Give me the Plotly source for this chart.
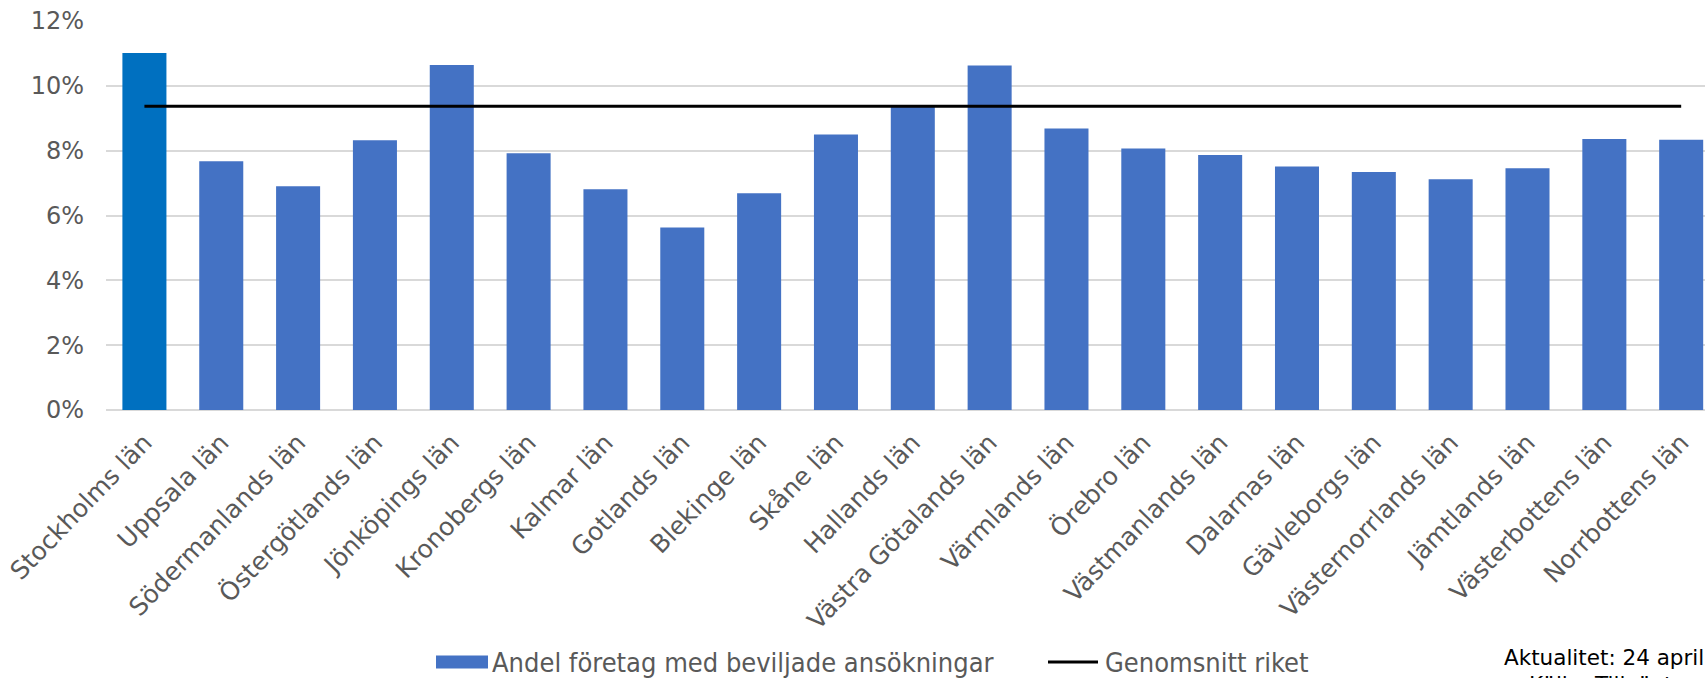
import plotly.graph_objects as go

# ---- data ----
categories = [
    "Stockholms län", "Uppsala län", "Södermanlands län", "Östergötlands län",
    "Jönköpings län", "Kronobergs län", "Kalmar län", "Gotlands län",
    "Blekinge län", "Skåne län", "Hallands län", "Västra Götalands län",
    "Värmlands län", "Örebro län", "Västmanlands län", "Dalarnas län",
    "Gävleborgs län", "Västernorrlands län", "Jämtlands län",
    "Västerbottens län", "Norrbottens län",
]
andel_pct = [11.01, 7.67, 6.90, 8.32, 10.64, 7.92, 6.81, 5.63, 6.69, 8.50,
             9.38, 10.63, 8.68, 8.07, 7.87, 7.51, 7.34, 7.12, 7.46, 8.36, 8.34]
genomsnitt_pct = 9.37
y_ticks_pct = [0, 2, 4, 6, 8, 10, 12]

bar_name = "Andel företag med beviljade ansökningar"
line_name = "Genomsnitt riket"
highlight = "Stockholms län"
note_1 = "Aktualitet: 24 april"
note_2 = "Källa: Tillväxtverket"

# ---- styling ----
BAR_COLOR = "#4472C4"
HIGHLIGHT_COLOR = "#0070C0"
LINE_COLOR = "#000000"
TEXT_GREY = "#595959"

values = [v / 100 for v in andel_pct]
avg = [genomsnitt_pct / 100] * len(categories)
colors = [HIGHLIGHT_COLOR if c == highlight else BAR_COLOR for c in categories]

W, H = 1705, 678
L, R, T, B = 106, 0, 21, 268
pw = W - L - R
ph = H - T - B

def px_x(x):
    return (x - L) / pw

def px_y(y):
    return (H - B - y) / ph

fig = go.Figure()
fig.add_trace(go.Bar(
    x=categories, y=values, name=bar_name,
    marker=dict(color=colors, line=dict(width=0)),
    showlegend=False,
))
fig.add_trace(go.Scatter(
    x=categories, y=avg, name=line_name, mode="lines",
    line=dict(color=LINE_COLOR, width=3),
    showlegend=False,
))

ytick_font = dict(family="DejaVu Sans", size=24, color=TEXT_GREY)
xtick_font = dict(family="DejaVu Sans", size=25, color=TEXT_GREY)
legend_font = dict(family="Liberation Sans Narrow, DejaVu Sans Condensed, Arial",
                   size=27, color=TEXT_GREY)
note_font = dict(family="DejaVu Sans", size=21.5, color="#000000")

# legend (drawn as shapes + text, matching the reference's wide swatches)
leg_y = 662
shapes = [
    dict(type="rect", xref="paper", yref="paper",
         x0=px_x(436), x1=px_x(488), y0=px_y(668.5), y1=px_y(655.5),
         fillcolor=BAR_COLOR, line=dict(width=0)),
    dict(type="line", xref="paper", yref="paper",
         x0=px_x(1048), x1=px_x(1098), y0=px_y(leg_y), y1=px_y(leg_y),
         line=dict(color=LINE_COLOR, width=3)),
]
annotations = [
    dict(text=bar_name, xref="paper", yref="paper",
         x=px_x(490), y=px_y(leg_y), xanchor="left", yanchor="middle",
         showarrow=False, font=legend_font),
    dict(text=line_name, xref="paper", yref="paper",
         x=px_x(1103), y=px_y(leg_y), xanchor="left", yanchor="middle",
         showarrow=False, font=legend_font),
    dict(text=note_1, xref="paper", yref="paper",
         x=px_x(1502), y=px_y(657), xanchor="left", yanchor="middle",
         showarrow=False, font=note_font),
    dict(text=note_2, xref="paper", yref="paper",
         x=px_x(1527), y=px_y(670), xanchor="left", yanchor="top",
         showarrow=False, font=note_font),
]

fig.update_layout(
    width=W, height=H,
    margin=dict(l=L, r=R, t=T, b=B, pad=0, autoexpand=False),
    paper_bgcolor="white", plot_bgcolor="white",
    bargap=0.427,
    showlegend=False,
    xaxis=dict(
        range=[-0.5, 20.31],
        tickangle=-46,
        tickfont=xtick_font,
        showgrid=False, showline=False, zeroline=False,
        ticks="", ticklabelstandoff=12,
        fixedrange=True, automargin=False,
    ),
    yaxis=dict(
        range=[0, 0.12],
        tickvals=[t / 100 for t in y_ticks_pct],
        tickformat=".0%",
        tickfont=ytick_font,
        showgrid=True, gridcolor="#D9D9D9", gridwidth=1.5,
        zeroline=True, zerolinecolor="#D9D9D9", zerolinewidth=1.5,
        showline=False, ticks="", ticklabelstandoff=21,
        fixedrange=True, automargin=False,
    ),
    shapes=shapes,
    annotations=annotations,
)

fig.write_html(
    "out.html",
    config={"displayModeBar": False},
    post_script="document.body.style.margin='0';document.body.style.overflow='hidden';",
)
